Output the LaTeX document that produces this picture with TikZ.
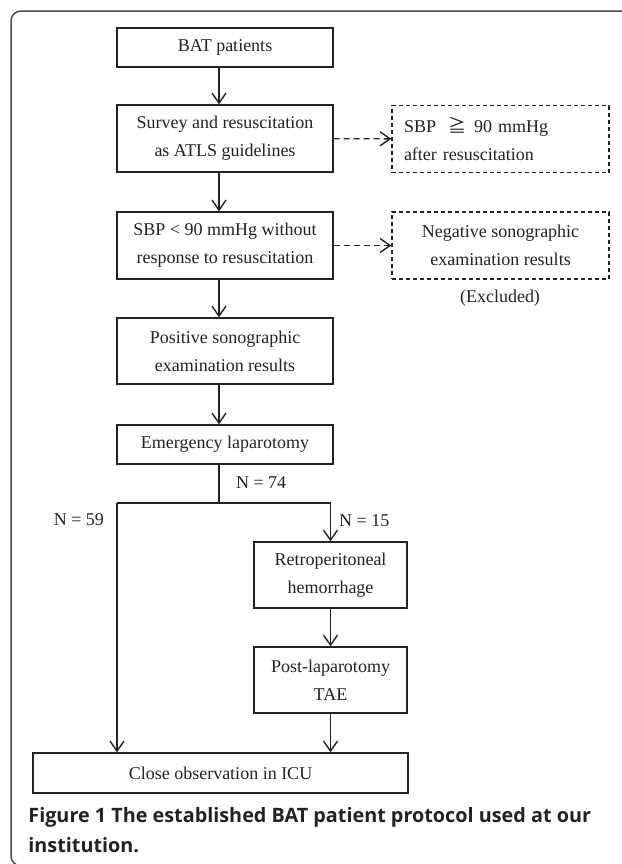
\documentclass[tikz,border=0pt]{standalone}
\usepackage{fontspec}
\setmainfont{Liberation Serif}
\newfontfamily\capfont{Open Sans}
\newfontfamily\cjkfont{Noto Sans CJK SC}
\usetikzlibrary{arrows.meta}
\definecolor{inkgray}{HTML}{222222}
\definecolor{framegray}{HTML}{4D4D4D}

\begin{document}
\begin{tikzpicture}[x=0.5pt, y=-0.5pt,
  every node/.style={text=inkgray, font=\fontsize{9}{14}\selectfont},
  stepbox/.style={draw=inkgray, line width=0.7pt, inner sep=0pt, align=center, minimum width=108pt},
  exitbox/.style={draw=inkgray, line width=0.7pt, dash pattern=on 2pt off 1.5pt, inner sep=0pt, minimum width=108.5pt, minimum height=33.5pt},
  arr/.style={draw=inkgray, line width=0.7pt, -{Straight Barb[length=5pt,width=7pt]}},
  darr/.style={arr, dash pattern=on 3pt off 2pt},
  bar/.style={draw=inkgray, line width=0.9pt}]

\useasboundingbox (0,0) rectangle (622,864);
\draw [framegray, line width=0.75pt, rounded corners=5pt] (622,11) -- (11,11) -- (11,866) -- (40,866);

\coordinate (spine) at (219,0);
\coordinate (split) at (219,503);
\coordinate (leftarm) at (117,503);
\coordinate (rightarm) at (330.5,503);

\node [stepbox, minimum height=19.5pt] (bat) at (225,47.5) {BAT patients};
\node [stepbox, minimum height=33.5pt] (survey) at (225,138.5) {Survey and resuscitation\\as ATLS guidelines};
\node [stepbox, minimum height=33.5pt] (sbplow) at (225,245.5) {SBP < 90 mmHg without\\response to resuscitation};
\node [stepbox, minimum height=33pt] (positive) at (225,351) {Positive sonographic\\examination results};
\node [stepbox, minimum height=19.5pt] (lap) at (225,444.5) {Emergency laparotomy};
\node [stepbox, minimum width=76.5pt, minimum height=33pt] (retro) at (330.5,575) {Retroperitoneal\\hemorrhage};
\node [stepbox, minimum width=76.5pt, minimum height=33pt] (tae) at (330.5,680) {Post-laparotomy\\TAE};
\node [stepbox, minimum width=187.5pt, minimum height=20pt] (icu) at (220.5,773) {Close observation in ICU};

\node [exitbox, align=left, text width=96.5pt, inner xsep=6pt] (sbpok) at (500.5,139) {SBP\hspace{3pt} {\cjkfont ≧} \hspace{1pt}90 mmHg\\after resuscitation};
\node [exitbox, align=center] (negative) at (500.5,245.5) {Negative sonographic\\examination results};
\node (excluded) at (500,298) {(Excluded)};

\path (bat.south -| spine) edge [arr] (survey.north -| spine) (survey.south -| spine) edge [arr] (sbplow.north -| spine) (sbplow.south -| spine) edge [arr] (positive.north -| spine) (positive.south -| spine) edge [arr] (lap.north -| spine);
\path (survey) edge [darr] (sbpok) (sbplow) edge [darr] (negative);

\draw [bar] (lap.south -| spine) -- (split) (leftarm) -- (rightarm);
\path (rightarm) edge [arr] node[right, pos=0.45, inner sep=4pt] (n15) {N = 15} (retro) (retro) edge [arr] (tae) (tae) edge [arr] (icu.north -| tae) (leftarm) edge [arr] (icu.north -| leftarm);

\node [anchor=west] (n74) at (229,483) {N = 74};
\node [anchor=east] (n59) at (111,520) {N = 59};

\node [anchor=north west, inner sep=0pt, align=left, font=\capfont\bfseries\fontsize{9.9}{15}\selectfont] (caption) at (28,807) {Figure 1 The established BAT patient protocol used at our\\institution.};

\end{tikzpicture}
\end{document}
